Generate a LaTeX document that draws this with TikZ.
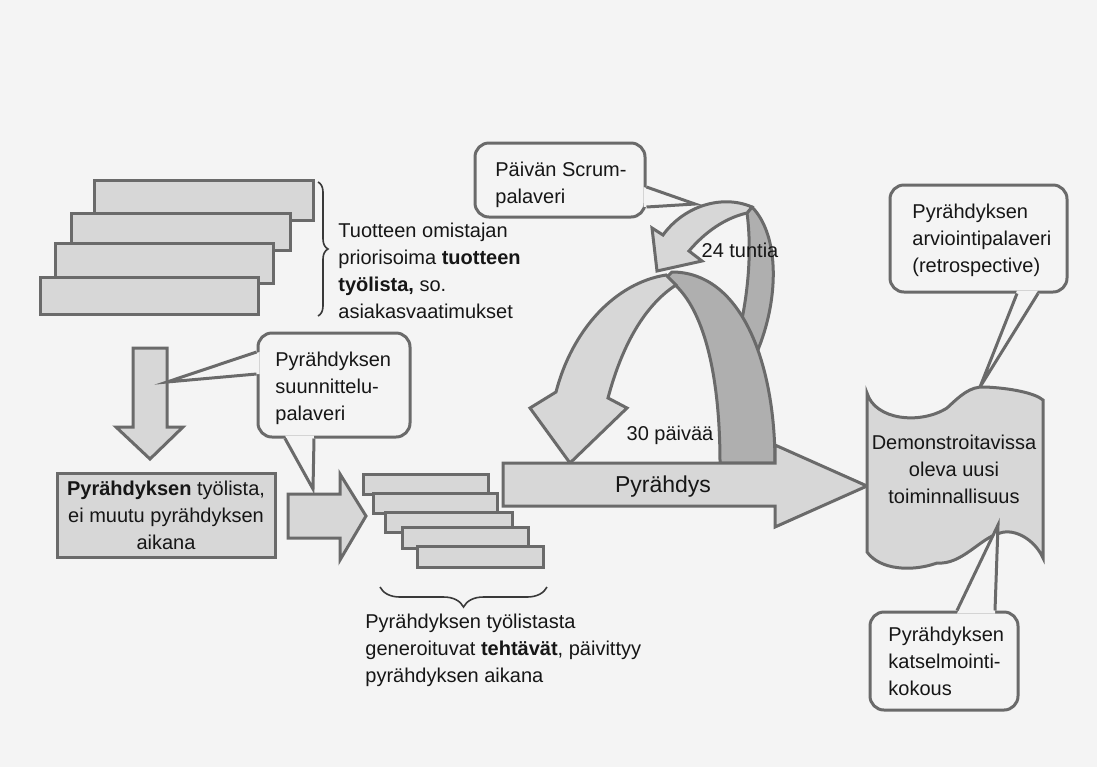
\documentclass[tikz,border=0pt]{standalone}
\usepackage{fontspec}
\setmainfont{Liberation Sans}
\usetikzlibrary{decorations.pathreplacing,calc}
\definecolor{paper}{HTML}{F4F4F4}
\definecolor{shade}{HTML}{D7D7D7}
\definecolor{deep}{HTML}{AFAFAF}
\definecolor{rim}{HTML}{6A6A6A}
\definecolor{ink}{HTML}{161616}
\begin{document}
\begin{tikzpicture}[x=0.5pt,y=-0.5pt,
  block/.style={draw=rim, line width=1.5pt, line join=miter, fill=shade},
  backpart/.style={draw=rim, line width=1.5pt, line join=round, fill=deep},
  frontpart/.style={draw=rim, line width=1.5pt, line join=miter, fill=shade},
  callbox/.style={draw=rim, line width=1.5pt, fill=paper, rounded corners=7pt, inner sep=0pt},
  tail/.style={draw=rim, line width=1.5pt, line join=miter},
  tailfill/.style={fill=paper},
  txt/.style={font=\fontsize{10}{13.5}\selectfont, text=ink, inner sep=0pt, align=left},
  bigtxt/.style={font=\fontsize{11.5}{13.5}\selectfont, text=ink, inner sep=0pt},
  bracket/.style={draw=ink!85, line width=0.8pt, decorate}
]
% page
\fill[paper] (0,0) rectangle (1097,767);
\useasboundingbox (0,0) rectangle (1097,767);

% ---- product backlog: stacked bars ----
\draw[block] (94,180) rectangle (313,220);
\draw[block] (71,213) rectangle (290,250);
\draw[block] (55,243) rectangle (273,283);
\draw[block] (40,277) rectangle (258,314);
\coordinate (pbtop) at (318,182);
\coordinate (pbbot) at (318,316);
\draw[bracket, decoration={brace, amplitude=5pt}] (pbtop) -- (pbbot);
\node[txt, anchor=west] (pbtext) at (338,271)
  {Tuotteen omistajan\\priorisoima \textbf{tuotteen}\\\textbf{työlista,} so.\\asiakasvaatimukset};

% ---- down arrow to the sprint backlog ----
\draw[block] (133,348) -- (167,348) -- (167,427) -- (183,427) -- (150,459)
  -- (116,427) -- (133,427) -- cycle;
\coordinate (downside) at (167,382);

% ---- sprint backlog box ----
\node[block, minimum width=109pt, minimum height=42pt, inner sep=0pt,
  font=\fontsize{10}{13.5}\selectfont, text=ink, align=center] (sbox) at (166,515)
  {\textbf{Pyrähdyksen} työlista,\\ei muutu pyrähdyksen\\aikana};

% ---- small arrow into the task list ----
\draw[block] (288,494) -- (340,494) -- (340,474) -- (366,516) -- (340,560)
  -- (340,538) -- (288,538) -- cycle;
\coordinate (smalltop) at (313,489);

% ---- sprint planning callout ----
\node[callbox, minimum width=76pt, minimum height=52pt] (plan) at (334,385) {};
\fill[tailfill] ($(plan.west)+(3,-33)$) -- (downside) -- ($(plan.west)+(3,-11)$) -- cycle;
\draw[tail] ($(plan.west)+(0,-33)$) -- (downside) -- ($(plan.west)+(0,-11)$);
\fill[tailfill] ($(plan.south)+(-49,-3)$) -- (smalltop) -- ($(plan.south)+(-20,-3)$) -- cycle;
\draw[tail] ($(plan.south)+(-49,0)$) -- (smalltop) -- ($(plan.south)+(-20,0)$);
\node[txt, anchor=west] (plantext) at (275,388) {Pyrähdyksen\\suunnittelu-\\palaveri};

% ---- task list: stacked bars ----
\draw[block] (363,474) rectangle (488,494);
\draw[block] (373,493) rectangle (497,513);
\draw[block] (385,512) rectangle (512,532);
\draw[block] (402,527) rectangle (528,548);
\draw[block] (417,546) rectangle (543,567);
\coordinate (tkright) at (547,587);
\coordinate (tkleft) at (380,587);
\draw[bracket, decoration={brace, amplitude=10pt}] (tkright) -- (tkleft);
\node[txt, anchor=west] (tktext) at (365,650)
  {Pyrähdyksen työlistasta\\generoituvat \textbf{tehtävät}, päivittyy\\pyrähdyksen aikana};

% ---- 24 hour loop ----
\draw[backpart] (747,213) .. controls (752,250) and (749,300) .. (734,352)
  -- (757,352) .. controls (779,300) and (780,236) .. (752,207) -- cycle;
\draw[frontpart] (663,235) -- (652,228) -- (657,271) -- (702,261) -- (689,251)
  .. controls (705,232) and (725,218) .. (747,213) -- (752,207)
  .. controls (722,194) and (684,206) .. (663,235) -- cycle;
\node[txt] (day) at (740,250) {24 tuntia};

% ---- 30 day loop ----
\draw[backpart] (720,463) .. controls (720,370) and (702,300) .. (666,278)
  -- (672,272) .. controls (740,272) and (775,360) .. (775,463) -- cycle;
\draw[frontpart] (666,275) .. controls (615,283) and (572,330) .. (556,392)
  -- (530,408) -- (570,463) -- (627,408) -- (608,398)
  .. controls (622,345) and (645,305) .. (676,285) -- cycle;
\node[txt] (month) at (670,435) {30 päivää};

% ---- sprint arrow ----
\draw[block] (503,463) -- (775,463) -- (775,445) -- (867,486) -- (775,527)
  -- (775,506) -- (503,506) -- cycle;
\node[bigtxt] (sprint) at (663,487) {Pyrähdys};

% ---- daily scrum callout ----
\node[callbox, minimum width=85pt, minimum height=37pt] (daily) at (560,180) {};
\coordinate (dailytip) at (695,204);
\fill[tailfill] ($(daily.east)+(-3,7)$) -- (dailytip) -- ($(daily.east)+(-3,27)$) -- cycle;
\draw[tail] ($(daily.east)+(0,7)$) -- (dailytip) -- ($(daily.east)+(0,27)$);
\node[txt, anchor=west] (dailytext) at (495,185) {Päivän Scrum-\\palaveri};

% ---- increment document ----
\draw[block] (867,393) .. controls (875,420) and (920,425) .. (947,408)
  .. controls (960,396) and (970,386) .. (985,387)
  .. controls (1010,388) and (1035,393) .. (1043,400) -- (1043,558)
  .. controls (1035,540) and (1015,528) .. (1000,533)
  .. controls (980,538) and (962,565) .. (937,563)
  .. controls (912,572) and (880,570) .. (867,552) -- cycle;
\node[txt, align=center] (incr) at (954,469) {Demonstroitavissa\\oleva uusi\\toiminnallisuus};
\coordinate (incrtop) at (980,387);
\coordinate (incrbottom) at (998,525);

% ---- retrospective callout ----
\node[callbox, minimum width=88.5pt, minimum height=53.5pt] (retro) at (978.5,238.5) {};
\fill[tailfill] ($(retro.south)+(38.5,-3)$) -- (incrtop) -- ($(retro.south)+(59.5,-3)$) -- cycle;
\draw[tail] ($(retro.south)+(38.5,0)$) -- (incrtop) -- ($(retro.south)+(59.5,0)$);
\node[txt, anchor=west] (retrotext) at (912,240) {Pyrähdyksen\\arviointipalaveri\\(retrospective)};

% ---- review callout ----
\node[callbox, minimum width=74pt, minimum height=49pt] (review) at (944,661) {};
\fill[tailfill] ($(review.north)+(13,3)$) -- (incrbottom) -- ($(review.north)+(51,3)$) -- cycle;
\draw[tail] ($(review.north)+(13,0)$) -- (incrbottom) -- ($(review.north)+(51,0)$);
\node[txt, anchor=west] (reviewtext) at (888,661) {Pyrähdyksen\\katselmointi-\\kokous};
\end{tikzpicture}
\end{document}
